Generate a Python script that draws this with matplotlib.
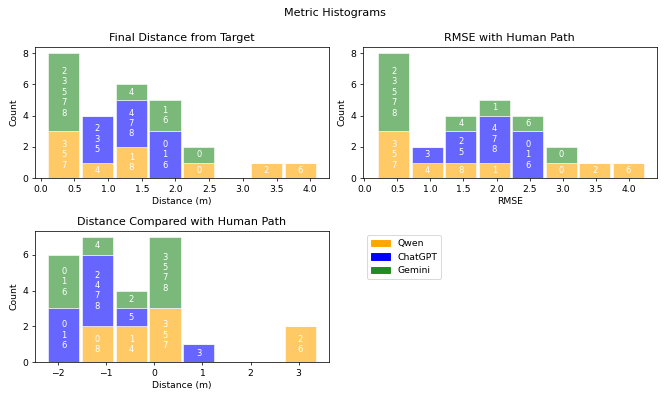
import matplotlib
matplotlib.use("Agg")
import matplotlib.pyplot as plt
from matplotlib.patches import Patch
import numpy as np

models = ["Qwen", "ChatGPT", "Gemini"]
colors = ["orange", "blue", "forestgreen"]

# trial ids falling into each bin, per model
final_edges = np.linspace(0.09, 4.1, 9)
final_qwen = [[3, 5, 7], [4], [1, 8], [], [0], [], [2], [6]]
final_gpt = [[], [2, 3, 5], [4, 7, 8], [0, 1, 6], [], [], [], []]
final_gem = [[2, 3, 5, 7, 8], [], [4], [1, 6], [0], [], [], []]

rmse_edges = np.linspace(0.19, 4.25, 9)
rmse_qwen = [[3, 5, 7], [4], [8], [1], [], [0], [2], [6]]
rmse_gpt = [[], [3], [2, 5], [4, 7, 8], [0, 1, 6], [], [], []]
rmse_gem = [[2, 3, 5, 7, 8], [], [4], [1], [6], [0], [], []]

comp_edges = np.linspace(-2.235, 3.38, 9)
comp_qwen = [[], [0, 8], [1, 4], [3, 5, 7], [], [], [], [2, 6]]
comp_gpt = [[0, 1, 6], [2, 4, 7, 8], [5], [], [3], [], [], []]
comp_gem = [[0, 1, 6], [4], [2], [3, 5, 7, 8], [], [], [], []]


def stacked_hist(ax, edges, groups, title, xlabel):
    centers = (edges[:-1] + edges[1:]) / 2
    width = np.diff(edges) * 0.92
    bottom = np.zeros(len(centers))
    for ids, c in zip(groups, colors):
        counts = np.array([len(b) for b in ids])
        ax.bar(centers, counts, width, bottom=bottom, color=c,
               alpha=0.6, edgecolor="white", linewidth=1)
        for i, b in enumerate(ids):
            if b:
                ax.text(centers[i], bottom[i] + counts[i] / 2,
                        "\n".join(str(v) for v in b), ha="center", va="center",
                        color="white", fontsize=9)
        bottom = bottom + counts
    ax.set_title(title)
    ax.set_xlabel(xlabel)
    ax.set_ylabel("Count")


DPI = 66.9
fig, axs = plt.subplots(2, 2, figsize=(669 / DPI, 394 / DPI), dpi=DPI)
stacked_hist(axs[0, 0], final_edges, [final_qwen, final_gpt, final_gem],
             "Final Distance from Target", "Distance (m)")
stacked_hist(axs[0, 1], rmse_edges, [rmse_qwen, rmse_gpt, rmse_gem],
             "RMSE with Human Path", "RMSE")
stacked_hist(axs[1, 0], comp_edges, [comp_qwen, comp_gpt, comp_gem],
             "Distance Compared with Human Path", "Distance (m)")
axs[0, 1].set_xlim(-0.025, 4.43)

axs[1, 1].axis("off")
handles = [Patch(color=c, label=m) for m, c in zip(models, colors)]
axs[1, 1].legend(handles=handles, loc="upper left")

fig.suptitle("Metric Histograms")
fig.subplots_adjust(left=0.052, right=0.982, top=0.881, bottom=0.081,
                    wspace=0.115, hspace=0.40)
fig.savefig("out.png", dpi=DPI)
